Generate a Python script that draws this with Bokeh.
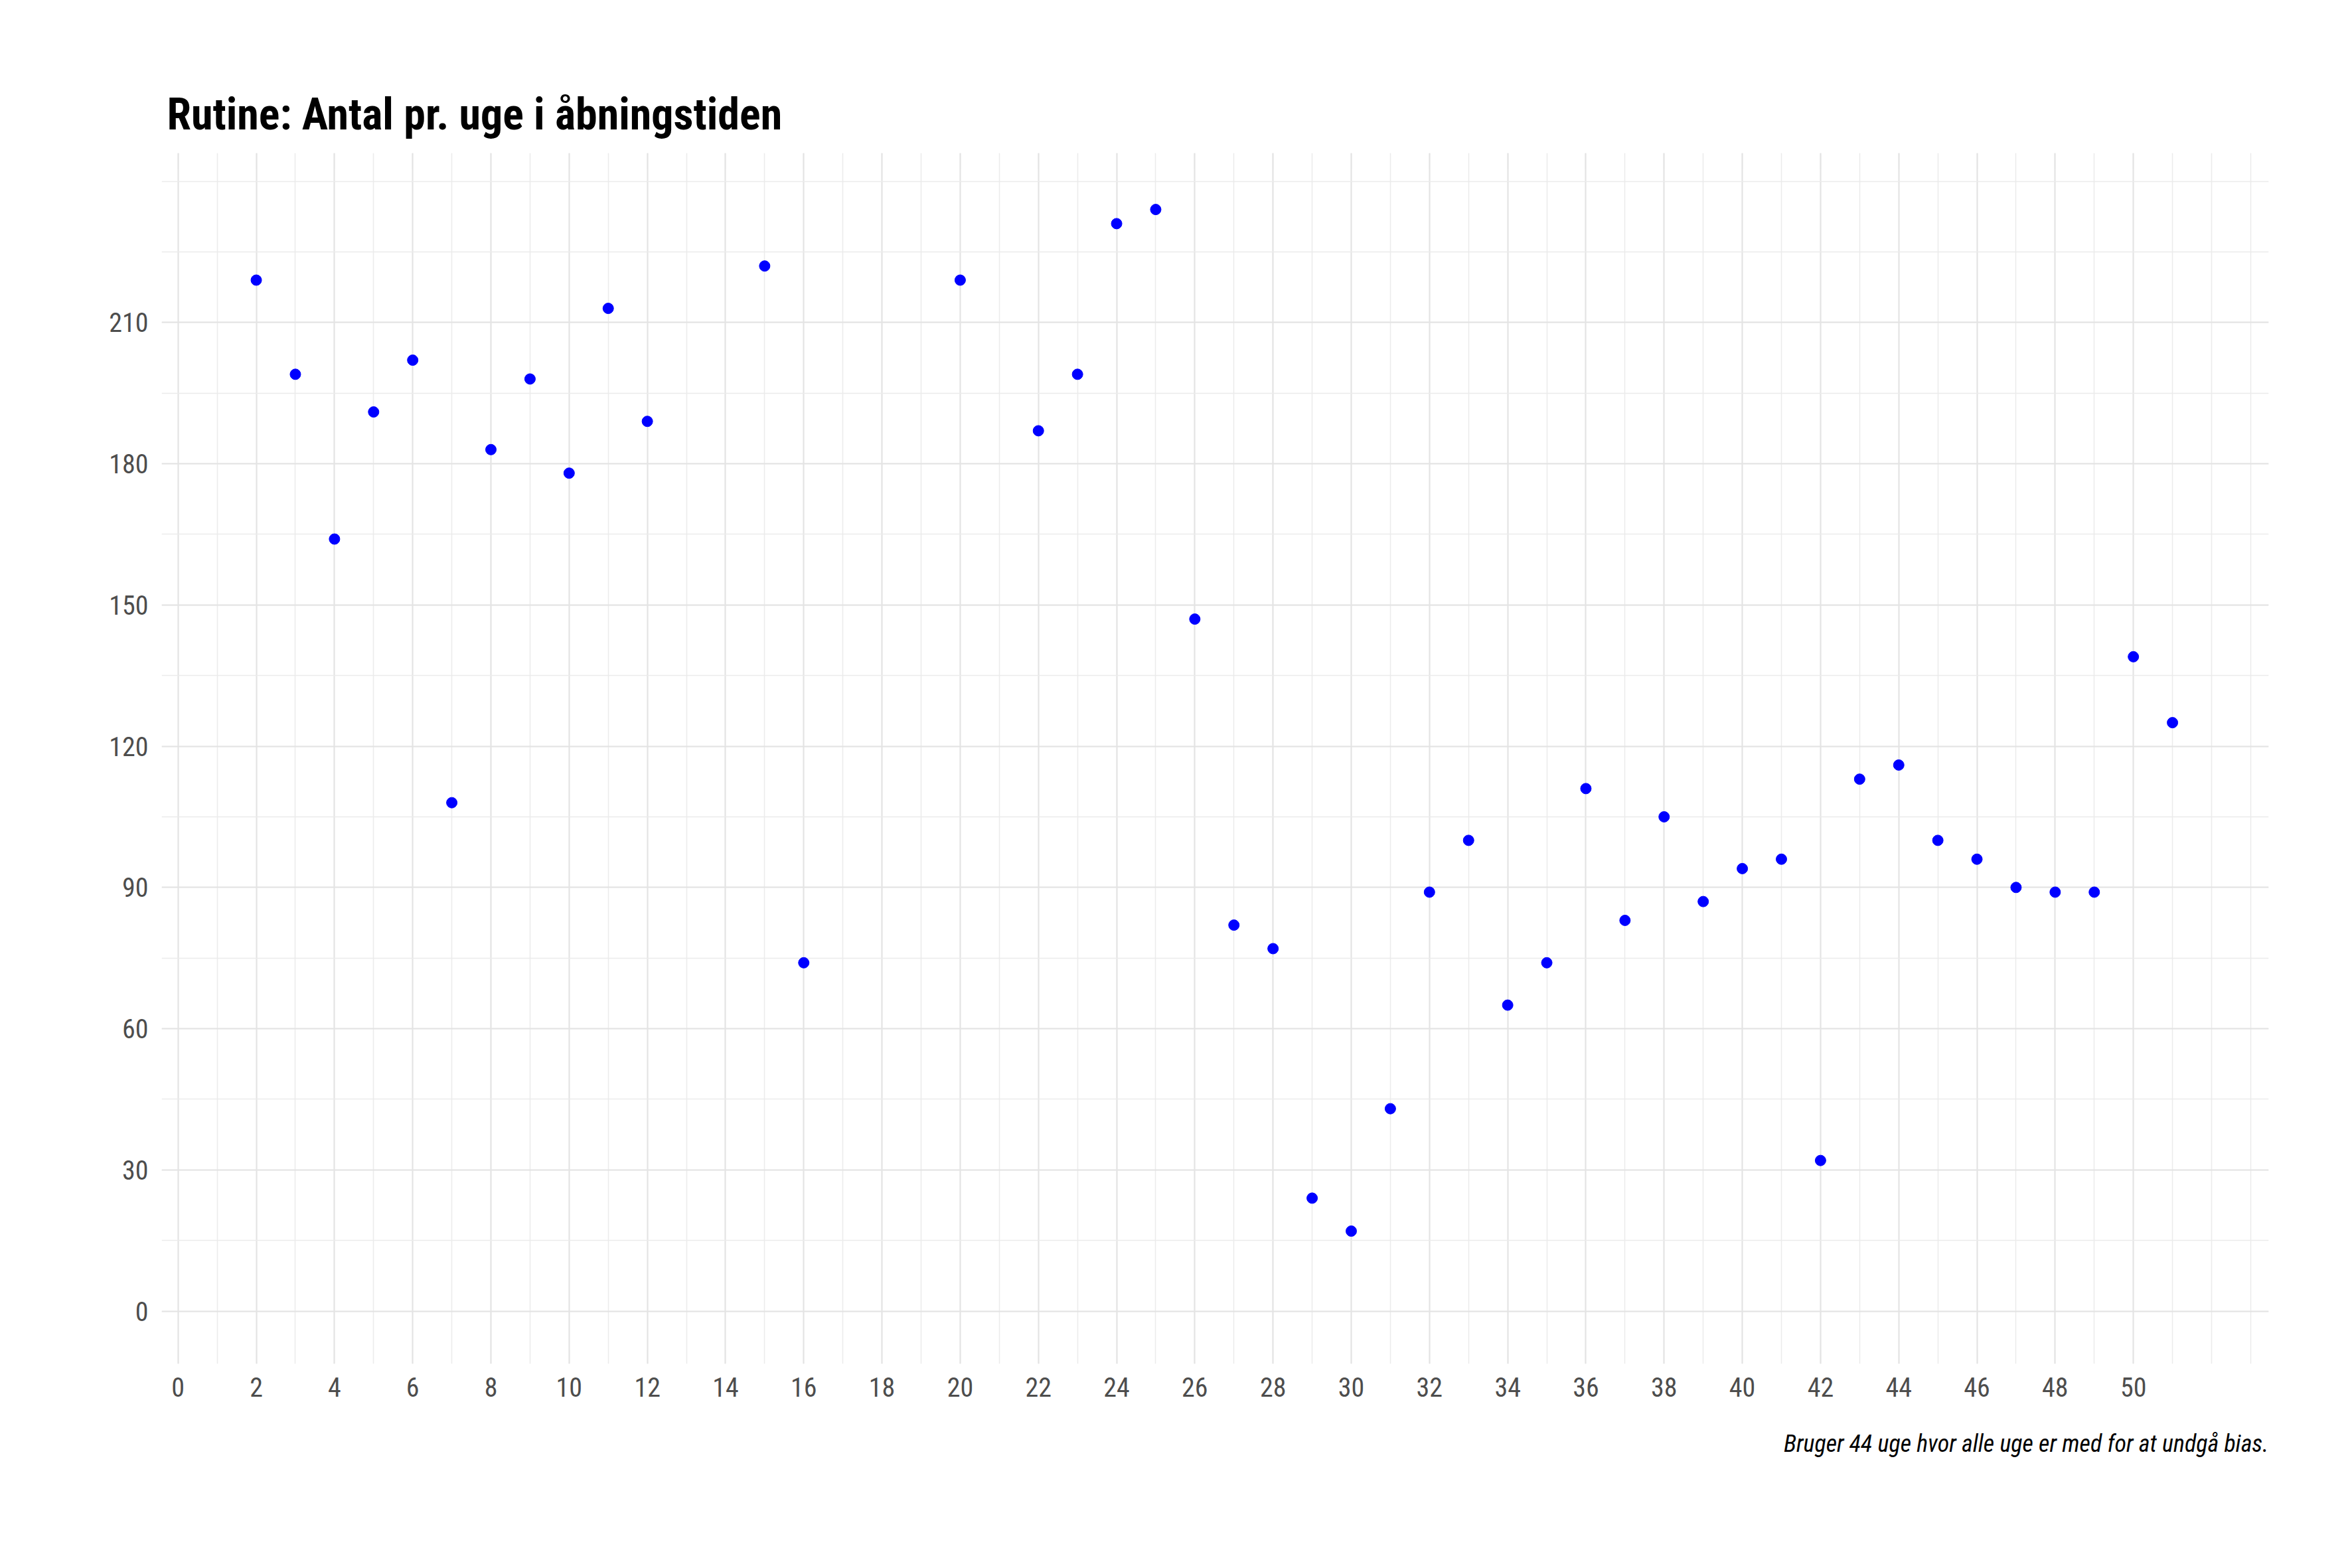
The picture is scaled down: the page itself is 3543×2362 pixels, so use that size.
from bokeh.plotting import figure
from bokeh.models import FixedTicker, Range1d, Title
from bokeh.embed import file_html
from bokeh.resources import INLINE

weeks = [2, 3, 4, 5, 6, 7, 8, 9, 10, 11, 12, 15, 16, 20, 22, 23, 24, 25, 26, 27, 28, 29,
         30, 31, 32, 33, 34, 35, 36, 37, 38, 39, 40, 41, 42, 43, 44, 45, 46, 47, 48, 49, 50, 51]
counts = [219, 199, 164, 191, 202, 108, 183, 198, 178, 213, 189, 222, 74, 219, 187, 199, 231, 234,
          147, 82, 77, 24, 17, 43, 89, 100, 65, 74, 111, 83, 105, 87, 94, 96, 32, 113, 116, 100,
          96, 90, 89, 89, 139, 125]
x_ticks = list(range(0, 51, 2))
y_ticks = list(range(0, 211, 30))

FONT = "Liberation Sans Narrow, Arial Narrow, Roboto Condensed, sans-serif"

p = figure(width=3527, height=2346, output_backend="svg", toolbar_location=None,
           x_range=Range1d(-0.42, 53.46), y_range=Range1d(-11.2, 246),
           min_border_left=243, min_border_right=110, min_border_top=230, min_border_bottom=292)
p.outline_line_color = None

p.title.text = "Rutine: Antal pr. uge i åbningstiden"
p.title.text_font = FONT
p.title.text_font_size = "66px"
p.title.text_font_style = "bold"
p.title.text_color = "black"
p.title.offset = 8
p.title.standoff = 40

p.add_layout(Title(text="Bruger 44 uge hvor alle uge er med for at undgå bias.", align="right",
                   text_font=FONT, text_font_size="36px", text_font_style="italic",
                   text_color="black", standoff=90), "below")

p.scatter(weeks, counts, size=16, color="blue")

p.xaxis.ticker = FixedTicker(ticks=x_ticks, minor_ticks=list(range(0, 54)))
p.yaxis.ticker = FixedTicker(ticks=y_ticks, minor_ticks=list(range(-15, 241, 15)))
for ax in (p.xaxis, p.yaxis):
    ax.axis_line_color = None
    ax.major_tick_line_color = None
    ax.minor_tick_line_color = None
    ax.major_label_text_font = FONT
    ax.major_label_text_font_size = "40px"
    ax.major_label_text_color = "#4d4d4d"
    ax.major_label_standoff = 14

for g in (p.xgrid, p.ygrid):
    g.grid_line_color = "#e3e3e3"
    g.grid_line_width = 2
    g.minor_grid_line_color = "#ebebeb"
    g.minor_grid_line_width = 1.5

open("out.html", "w").write(file_html(p, INLINE))
